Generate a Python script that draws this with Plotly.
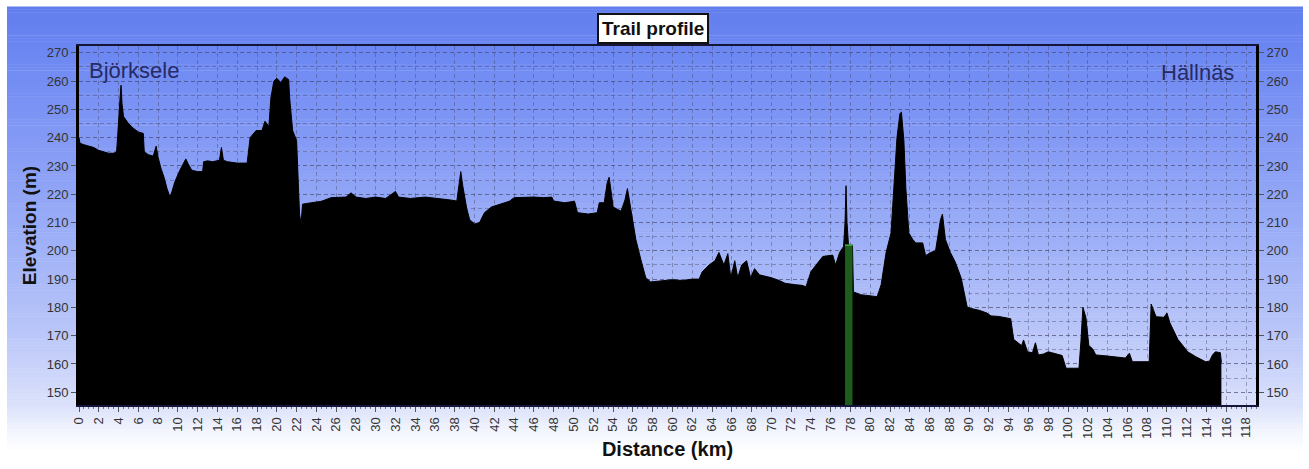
import plotly.graph_objects as go

# ---------------- data ----------------
distance_km = [
    0.0, 0.1, 0.5, 1.0, 1.5, 2.0, 2.5, 3.0, 3.5, 3.8, 3.9, 4.0, 4.15, 4.25, 4.35, 4.5,
    5.0, 5.5, 6.0, 6.5, 6.6, 7.0, 7.5, 7.8, 8.0, 8.3, 8.6, 8.9, 9.2, 9.4, 9.7, 10.2,
    10.6, 10.8, 11.0, 11.4, 12.0, 12.5, 12.6, 13.0, 13.5, 14.2, 14.4, 14.6, 15.0, 16.0,
    17.0, 17.3, 17.9, 18.5, 18.8, 19.2, 19.4, 19.7, 20.0, 20.4, 20.8, 21.2, 21.3, 21.6,
    22.0, 22.3, 22.45, 22.6, 23.5, 24.5, 25.5, 27.0, 27.5, 28.0, 29.0, 30.0, 31.0, 32.0,
    32.3, 33.5, 35.0, 36.5, 37.5, 38.2, 38.6, 38.8, 39.2, 39.5, 40.0, 40.5, 41.0, 41.7,
    42.5, 43.5, 44.0, 45.0, 46.0, 47.0, 47.8, 48.0, 49.1, 50.1, 50.4, 51.5, 52.4, 52.6,
    53.1, 53.4, 53.6, 53.8, 54.0, 54.8, 55.2, 55.45, 55.7, 55.9, 56.3, 56.8, 57.3, 57.8,
    59.0, 60.0, 61.0, 62.0, 62.7, 63.0, 63.7, 64.3, 64.7, 65.0, 65.2, 65.6, 65.9, 66.3,
    66.6, 67.0, 67.5, 67.9, 68.3, 68.8, 70.0, 70.8, 71.4, 72.5, 73.1, 73.5, 74.0, 74.5,
    75.2, 76.2, 76.5, 76.9, 77.3, 77.45, 77.55, 77.65, 77.8, 78.2, 78.3, 79.0, 80.0, 80.7,
    81.1, 81.6, 82.1, 82.4, 82.7, 83.0, 83.15, 83.4, 83.6, 83.9, 84.3, 84.6, 85.3, 85.6,
    86.1, 86.6, 86.9, 87.1, 87.3, 87.6, 88.1, 88.6, 89.2, 89.5, 89.8, 90.2, 91.0, 91.8,
    92.2, 93.0, 94.2, 94.5, 94.9, 95.3, 95.5, 95.9, 96.4, 96.7, 97.0, 97.5, 98.0, 99.0,
    99.4, 99.8, 101.1, 101.3, 101.5, 101.8, 102.1, 102.5, 102.8, 104.0, 105.0, 105.8,
    106.2, 106.5, 108.2, 108.4, 108.9, 109.7, 110.0, 110.3, 111.1, 112.1, 112.9, 113.9,
    114.3, 114.6, 114.9, 115.4, 115.5,
]
elevation_m = [
    240, 238, 237.5, 237, 236.5, 235.5, 235, 234.5, 234.5, 235, 240, 248, 254, 258.5, 252, 247.5,
    245, 243.3, 242, 241.5, 235, 234, 233.5, 237, 233, 229, 226, 222, 219, 221, 224.5, 228.5,
    231, 232.5, 231, 228.5, 228, 228, 231.5, 231.8, 231.5, 232, 236.5, 232, 231.5, 231,
    231, 240, 242.5, 242.5, 245.8, 244, 254, 260, 261, 259.5, 261.5, 260.5, 254, 242.5,
    239, 213, 209.5, 216.5, 217, 217.5, 218.8, 219, 220.5, 219, 218.5, 219, 218.5, 221,
    219, 218.5, 219, 218.5, 218, 217.6, 228, 223, 215, 211, 209.5, 210, 213.5, 215.5,
    216.5, 217.5, 218.8, 219, 219, 218.8, 219, 217.6, 217, 217.5, 213.5, 213, 213.5, 217,
    217, 224, 226, 221, 215.5, 214, 218, 222, 217, 212, 204, 197, 190.5, 189,
    189.5, 189.8, 189.5, 190, 190, 192.5, 195, 196.5, 199.4, 197, 195, 199, 190.5, 196.5,
    190.5, 195, 196.5, 190.5, 193.7, 191.5, 190.5, 189.5, 188.5, 188, 187.8, 187.3, 192.6, 194.9,
    198, 198.5, 195, 199.4, 201.5, 210, 223, 210, 202, 202, 185.5, 184.5, 184, 183.8,
    188, 199.4, 206.3, 222, 240, 248.5, 249, 239, 222, 206.3, 204, 202.8, 202.8, 198.3,
    199.4, 200, 206, 211, 213, 204, 199.4, 196, 190.3, 184.6, 180.1, 179.6, 179, 178,
    177, 176.8, 176, 168.7, 167.5, 166.5, 168.5, 164.3, 164, 167.5, 163.2, 163.5, 164.3, 163.5,
    163, 158.5, 158.5, 168, 180, 176.5, 166.5, 165.3, 163.2, 162.8, 162.5, 162.1,
    163.8, 160.8, 160.8, 181.2, 176.7, 176.5, 178, 174.5, 168.7, 164.3, 162.6, 160.8,
    161, 163.2, 164.3, 164, 160.5,
]
highlight_km = [77.45, 78.2]
highlight_m = [202, 202]

x_tick_values = list(range(0, 120, 2))
y_tick_values = list(range(150, 280, 10))
x_range = [0, 119]
y_range = [145.5, 272.4]

chart_title = "Trail profile"
start_name = "Björksele"
end_name = "Hällnäs"
x_title = "Distance (km)"
y_title = "Elevation (m)"

# ---------------- layout geometry (screen px) ----------------
W, H = 1309, 469
PL, PT, PR, PB = 79, 46, 1256, 418          # plot area
ML, MT, MR, MB = PL, PT, W - PR, H - PB
PW, PH = PR - PL, PB - PT


def px_to_paper_x(px):
    return (px - PL) / PW


def px_to_paper_y(py):
    return (PB - py) / PH


# background gradient (vertical)
stops = [
    (5, (98, 126, 238)),
    (60, (110, 137, 242)),
    (150, (133, 155, 245)),
    (250, (158, 176, 247)),
    (350, (188, 200, 249)),
    (420, (220, 226, 251)),
    (445, (242, 245, 253)),
    (466, (255, 255, 255)),
]


def grad_color(py):
    for (y0, c0), (y1, c1) in zip(stops[:-1], stops[1:]):
        if y0 <= py <= y1:
            t = (py - y0) / (y1 - y0)
            return "rgb(%d,%d,%d)" % tuple(round(a + (b - a) * t) for a, b in zip(c0, c1))
    return "rgb(%d,%d,%d)" % stops[-1][1]


shapes = []
step = 3
py = 5
while py < 466:
    shapes.append(dict(
        type="rect", xref="paper", yref="paper", layer="below",
        x0=px_to_paper_x(7), x1=px_to_paper_x(1303),
        y0=px_to_paper_y(min(py + step + 0.5, 466)), y1=px_to_paper_y(py),
        fillcolor=grad_color(py + step / 2), line=dict(width=0),
    ))
    py += step

fig = go.Figure()

fig.add_trace(go.Scatter(
    x=distance_km, y=elevation_m, mode="lines", fill="tozeroy",
    fillcolor="#000000", line=dict(color="#000000", width=1),
    hoverinfo="x+y", showlegend=False,
))
fig.add_trace(go.Scatter(
    x=highlight_km, y=highlight_m, mode="lines", fill="tozeroy",
    fillcolor="#1d5c1d", line=dict(color="#3fb03f", width=1.5),
    hoverinfo="skip", showlegend=False,
))
# trace bound to the right-hand axis (invisible) so it is rendered
fig.add_trace(go.Scatter(
    x=distance_km, y=elevation_m, yaxis="y2", mode="lines",
    line=dict(width=0), opacity=0, hoverinfo="skip", showlegend=False,
))

grid_col = "rgba(70,70,105,0.42)"
tick_font = dict(family="Liberation Sans, Arial, sans-serif", size=13, color="#333333")

fig.update_layout(
    width=W, height=H, autosize=False,
    margin=dict(l=ML, r=MR, t=MT, b=MB, pad=0),
    paper_bgcolor="white", plot_bgcolor="rgba(0,0,0,0)",
    shapes=shapes,
    xaxis=dict(
        range=x_range, tickmode="array", tickvals=x_tick_values,
        tickangle=-90, tickfont=tick_font,
        ticks="outside", ticklen=5, tickcolor="#555555",
        minor=dict(dtick=0.5, ticks="outside", ticklen=2, tickcolor="#777777", showgrid=False),
        showgrid=True, gridcolor=grid_col, griddash="4px,3px", gridwidth=1,
        showline=True, linecolor="#15153a", linewidth=2, mirror=True,
        zeroline=False,
        title=dict(text="<b>%s</b>" % x_title, standoff=4,
                   font=dict(family="Liberation Sans, Arial, sans-serif", size=20, color="#111111")),
    ),
    yaxis=dict(
        range=y_range, tickmode="array", tickvals=y_tick_values,
        tickfont=tick_font, ticks="outside", ticklen=5, tickcolor="#555555",
        showgrid=True, gridcolor=grid_col, griddash="4px,3px", gridwidth=1,
        minor=dict(dtick=5, showgrid=True, gridcolor=grid_col, griddash="4px,3px", gridwidth=1),
        showline=True, linecolor="#000000", linewidth=3, mirror=True,
        zeroline=False,
        title=dict(text="<b>%s</b>" % y_title, standoff=6,
                   font=dict(family="Liberation Sans, Arial, sans-serif", size=19, color="#111111")),
    ),
    yaxis2=dict(
        range=y_range, overlaying="y", side="right", tickmode="array",
        tickvals=y_tick_values, tickfont=tick_font, ticks="outside", ticklen=5,
        tickcolor="#555555", showgrid=False, zeroline=False,
        showline=True, linecolor="#000000", linewidth=3,
    ),
    annotations=[
        dict(text="<b>%s</b>" % chart_title, xref="paper", yref="paper",
             x=px_to_paper_x(653), y=px_to_paper_y(28), xanchor="center", yanchor="middle",
             showarrow=False, bgcolor="white", bordercolor="#111111", borderwidth=2,
             borderpad=3,
             font=dict(family="Liberation Sans, Arial, sans-serif", size=19, color="#111111")),
        dict(text=start_name, xref="paper", yref="paper",
             x=px_to_paper_x(87), y=px_to_paper_y(71), xanchor="left", yanchor="middle",
             showarrow=False,
             font=dict(family="Liberation Sans, Arial, sans-serif", size=22, color="#262a66")),
        dict(text=end_name, xref="paper", yref="paper",
             x=px_to_paper_x(1236), y=px_to_paper_y(73), xanchor="right", yanchor="middle",
             showarrow=False,
             font=dict(family="Liberation Sans, Arial, sans-serif", size=22, color="#262a66")),
    ],
)

fig.write_html(
    "out.html",
    config={"displayModeBar": False},
    post_script="document.body.style.margin='0';document.body.style.overflow='hidden';",
)
